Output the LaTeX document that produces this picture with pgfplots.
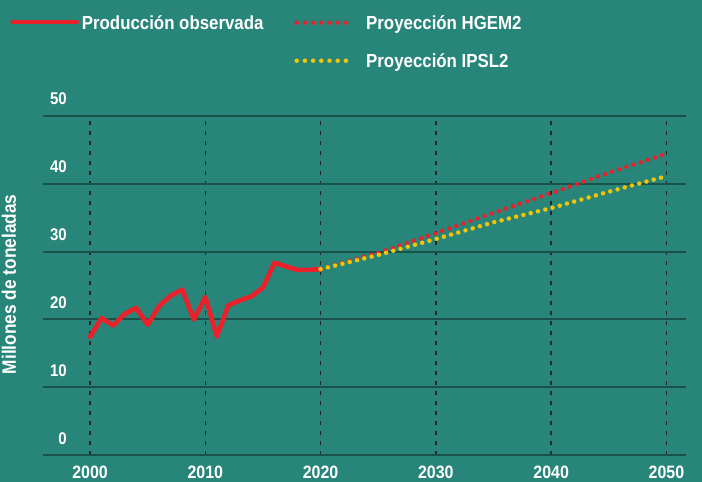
\documentclass[border=0pt]{standalone}
\usepackage{pgfplots}
\pgfplotsset{compat=1.18}
\usepackage{fontspec}
\setmainfont{Liberation Sans}[FakeStretch=0.89]
\definecolor{bg}{RGB}{40,133,122}
\definecolor{gridc}{RGB}{24,82,74}
\definecolor{obsred}{RGB}{232,33,43}
\definecolor{projyel}{RGB}{244,197,0}
\begin{document}
\begin{tikzpicture}[x=1bp,y=1bp]
\path[use as bounding box, fill=bg] (-43,-26.7) rectangle (659,455.3);
\begin{axis}[
  at={(0,0)}, anchor=south west,
  scale only axis, width=643bp, height=339.6bp,
  xmin=1995.92, xmax=2051.7, ymin=0, ymax=50,
  clip=false,
  axis line style={draw=none},
  major tick length=0pt,
  xtick={2000,2010,...,2050},
  ytick={10,20,...,50},
  extra y ticks={0},
  extra y tick style={grid style={color=black!90, line width=2.4bp, solid}},
  grid=major,
  x grid style={color=black!85, line width=1.3bp, dash pattern=on 4bp off 6bp},
  y grid style={color=gridc, line width=2bp},
  /pgf/number format/assume math mode=true,
  /pgf/number format/1000 sep={},
  xticklabel style={font=\bfseries\fontsize{18}{20}\selectfont, text=white, anchor=north, inner sep=0pt, yshift=-10.5bp},
  yticklabel style={font=\bfseries\fontsize{17}{18}\selectfont, text=white, anchor=east, inner sep=0pt, xshift=24bp, yshift=17bp},
  ylabel={Millones de toneladas},
  every axis y label/.style={at={(axis description cs:-0.0529,0.5035)}, rotate=90, anchor=center, font=\bfseries\fontsize{19.5}{21}\selectfont, text=white},
]
\addplot[obsred, line width=4.7bp, line join=round, line cap=round] coordinates {
(2000,17.45) (2001,20.2) (2002,19.1) (2003,20.8) (2004,21.7) (2005,19.2)
(2006,22.0) (2007,23.5) (2008,24.4) (2009,20.0) (2010,23.3) (2011,17.5)
(2012,22.1) (2013,22.8) (2014,23.4) (2015,24.7) (2016,28.35) (2017,27.8)
(2018,27.3) (2019,27.3) (2020,27.4)
};
\addplot[obsred, line width=4.5bp, line cap=round, dash pattern=on 0bp off 7.5bp] coordinates {
(2020,27.4) (2025,29.8) (2030,32.7) (2035,35.7) (2040,38.6) (2045,41.6) (2050,44.4)
};
\addplot[projyel, line width=4.5bp, line cap=round, dash pattern=on 0bp off 7.5bp] coordinates {
(2020,27.4) (2025,29.5) (2030,31.85) (2035,34.3) (2040,36.4) (2045,38.8) (2050,41.1)
};
\end{axis}
% legend
\draw[obsred, line width=4.7bp, line cap=round] (-30.3,433.3) -- (33.7,433.3);
\node[anchor=base west, inner sep=0pt, text=white, font=\bfseries\fontsize{19}{21}\selectfont] at (38.7,425.3) {Producción observada};
\draw[obsred, line width=4.5bp, line cap=round, dash pattern=on 0bp off 8.2bp] (253.7,432.6) -- (311,432.6);
\node[anchor=base west, inner sep=0pt, text=white, font=\bfseries\fontsize{19}{21}\selectfont] at (323,426) {Proyección HGEM2};
\draw[projyel, line width=4.5bp, line cap=round, dash pattern=on 0bp off 8.2bp] (253.7,394.6) -- (311,394.6);
\node[anchor=base west, inner sep=0pt, text=white, font=\bfseries\fontsize{19}{21}\selectfont] at (323,388) {Proyección IPSL2};
\end{tikzpicture}
\end{document}
